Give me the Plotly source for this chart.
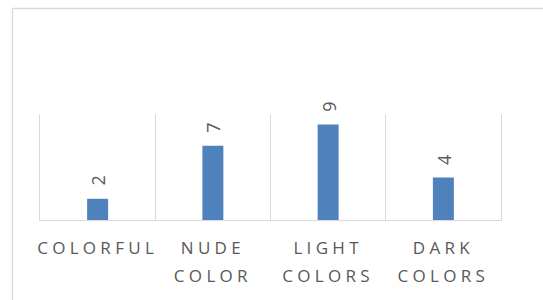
import plotly.graph_objects as go

categories = ["COLORFUL", "NUDE COLOR", "LIGHT COLORS", "DARK COLORS"]
values = [2, 7, 9, 4]

W, H = 543, 300
ML, MR, MT, MB = 40, 42, 114, 80
PW, PH = W - ML - MR, H - MT - MB

BAR = "#4F81BD"
TXT = "#595959"
GRID = "#D9D9D9"
FONT = "Open Sans"

def wrap(label):
    words = label.split(" ")
    return "<br>".join(
        f"<span style='font-size:17px;letter-spacing:4.3px'>{w}</span>" for w in words
    )

ticktext = [wrap(c) for c in categories]

fig = go.Figure(
    go.Bar(
        x=categories,
        y=values,
        marker=dict(color=BAR, line=dict(width=0)),
        hoverinfo="skip",
    )
)

for c, v in zip(categories, values):
    fig.add_annotation(
        x=c, y=v, xref="x", yref="y",
        text=str(v), textangle=-90, showarrow=False,
        yanchor="bottom", xanchor="center", yshift=11,
        font=dict(family=FONT, size=18, color=TXT),
    )

def px_x(p):
    return (p - ML) / PW

def px_y(p):
    return (H - MB - p) / PH

# chart-area border (cropped at right and bottom)
fig.add_shape(type="line", xref="paper", yref="paper",
              x0=px_x(12.5), x1=px_x(12.5), y0=px_y(320), y1=px_y(8.5),
              line=dict(color=GRID, width=1.3))
fig.add_shape(type="line", xref="paper", yref="paper",
              x0=px_x(12.5), x1=px_x(560), y0=px_y(8.5), y1=px_y(8.5),
              line=dict(color=GRID, width=1.3))

fig.update_layout(
    width=W, height=H,
    margin=dict(l=ML, r=MR, t=MT, b=MB, autoexpand=False),
    paper_bgcolor="white", plot_bgcolor="white",
    bargap=0.818,
    showlegend=False,
    font=dict(family=FONT, color=TXT),
)
fig.update_xaxes(
    type="category",
    tickmode="array", tickvals=categories, ticktext=ticktext,
    tickfont=dict(family=FONT, size=22, color=TXT),
    tickson="boundaries", ticks="",
    showgrid=True, gridcolor=GRID, gridwidth=1,
    showline=True, linecolor=GRID, linewidth=1.3,
    ticklabelstandoff=6,
    tickangle=0,
    fixedrange=True,
)
fig.update_yaxes(
    range=[0, 10], showticklabels=False, ticks="", showgrid=False, zeroline=False,
    showline=True, mirror=True, linecolor=GRID, linewidth=1, fixedrange=True,
)

fig.write_html(
    "out.html",
    config={"displayModeBar": False, "responsive": False},
    post_script="document.body.style.margin='0';",
)
